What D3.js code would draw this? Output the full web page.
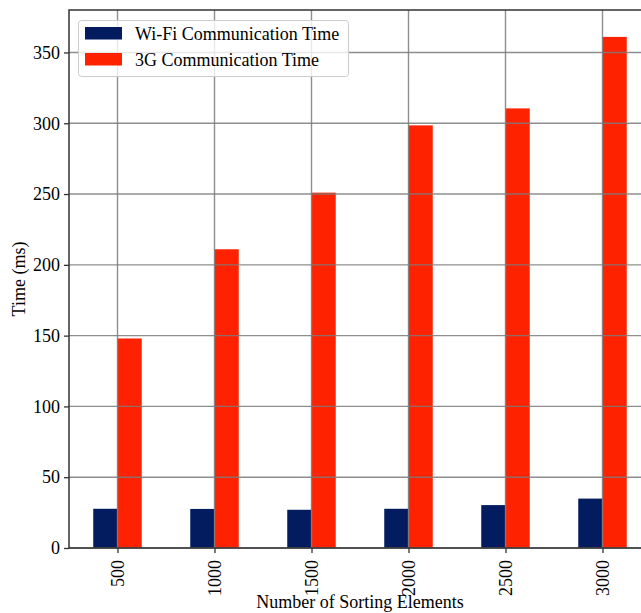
<!DOCTYPE html>
<html>
<head>
<meta charset="utf-8">
<script src="https://cdn.jsdelivr.net/npm/d3@7"></script>
<style>
  html, body { margin: 0; padding: 0; background: #fff; }
  svg { display: block; font-family: "Liberation Serif", "Times New Roman", serif; }
</style>
</head>
<body>
<svg id="chart" width="641" height="613"></svg>
<script>
// Communication time per number of sorted elements
const categories = ["500", "1000", "1500", "2000", "2500", "3000"];
const wifiTime = [27.7, 27.6, 27.0, 27.7, 30.3, 34.9];
const g3Time = [148, 211, 251, 298.5, 310.5, 361];
const yTicks = [0, 50, 100, 150, 200, 250, 300, 350];
const seriesNames = ["Wi-Fi Communication Time", "3G Communication Time"];
const seriesColors = ["#031b5f", "#ff2200"];

const svg = d3.select("#chart");
const plotLeft = 69, plotRight = 651, plotTop = 10, plotBottom = 548;
const fontSize = 18;

const x = d3.scaleLinear().domain([-0.5, categories.length - 0.5]).range([plotLeft, plotRight]);
const y = d3.scaleLinear().domain([0, 380]).range([plotBottom, plotTop]);
const barW = 0.25;

const series = [wifiTime, g3Time];

// bars
series.forEach((vals, s) => {
  svg.append("g").selectAll("rect").data(vals).join("rect")
    .attr("x", (d, i) => x(i - barW + s * barW))
    .attr("width", x(barW) - x(0))
    .attr("y", d => y(d))
    .attr("height", d => y(0) - y(d))
    .attr("fill", seriesColors[s]);
});

// grid drawn above the bars
const grid = svg.append("g").attr("stroke", "#7a7a7a").attr("stroke-width", 1.4).attr("stroke-opacity", 0.85);
grid.selectAll("line.h").data(yTicks).join("line").attr("class", "h")
  .attr("x1", plotLeft).attr("x2", plotRight).attr("y1", d => y(d)).attr("y2", d => y(d));
grid.selectAll("line.v").data(categories).join("line").attr("class", "v")
  .attr("x1", (d, i) => x(i)).attr("x2", (d, i) => x(i)).attr("y1", plotTop).attr("y2", plotBottom);

// axes
const yAxis = d3.axisLeft(y).tickValues(yTicks).tickSize(5).tickPadding(4);
const xAxis = d3.axisBottom(x).tickValues(d3.range(categories.length))
  .tickFormat(i => categories[i]).tickSize(5).tickPadding(4);

const gy = svg.append("g").attr("transform", `translate(${plotLeft},0)`).call(yAxis);
const gx = svg.append("g").attr("transform", `translate(0,${plotBottom})`).call(xAxis);
[gx, gy].forEach(g => {
  g.select(".domain").remove();
  g.selectAll(".tick line").attr("stroke", "#333").attr("stroke-width", 1.3);
  g.selectAll(".tick text").attr("font-size", fontSize).attr("fill", "#000")
    .attr("font-family", "Liberation Serif, serif");
});
gx.selectAll(".tick text")
  .attr("transform", "rotate(-90)")
  .attr("text-anchor", "end")
  .attr("x", -12).attr("y", 0).attr("dy", "0.35em");

// frame
svg.append("rect").attr("x", plotLeft).attr("y", plotTop)
  .attr("width", plotRight - plotLeft).attr("height", plotBottom - plotTop)
  .attr("fill", "none").attr("stroke", "#333").attr("stroke-width", 1.5);

// axis titles
svg.append("text").attr("x", (plotLeft + plotRight) / 2).attr("y", 608)
  .attr("text-anchor", "middle").attr("font-size", fontSize).text("Number of Sorting Elements");
svg.append("text").attr("transform", `translate(25,${(plotTop + plotBottom) / 2}) rotate(-90)`)
  .attr("text-anchor", "middle").attr("font-size", fontSize).text("Time (ms)");

// legend
const lg = svg.append("g");
lg.append("rect").attr("x", 78.5).attr("y", 20.5).attr("width", 270).attr("height", 56)
  .attr("rx", 3).attr("fill", "#fff").attr("fill-opacity", 0.8)
  .attr("stroke", "#cccccc").attr("stroke-width", 1);
seriesNames.forEach((name, s) => {
  const yy = 27 + s * 26;
  lg.append("rect").attr("x", 85).attr("y", yy).attr("width", 37).attr("height", 12.5)
    .attr("fill", seriesColors[s]);
  lg.append("text").attr("x", 135).attr("y", yy + 13).attr("font-size", fontSize).text(name);
});
</script>
</body>
</html>
